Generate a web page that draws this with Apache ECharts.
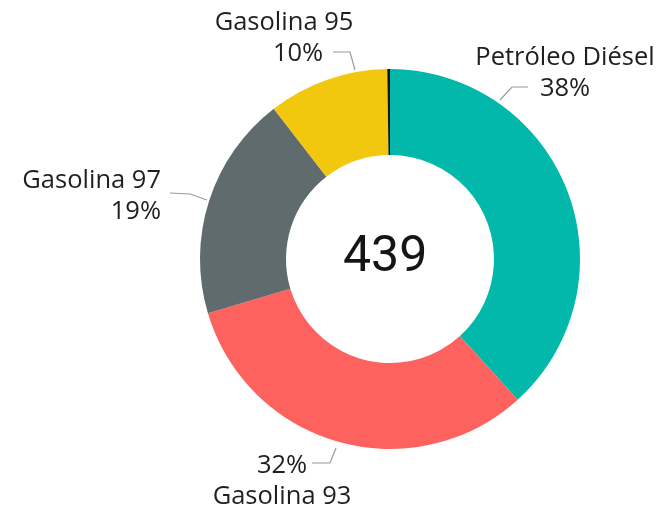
<!DOCTYPE html>
<html>
<head>
<meta charset="utf-8">
<script src="https://cdn.jsdelivr.net/npm/echarts@6/dist/echarts.min.js"></script>
<style>
html,body{margin:0;padding:0;background:#fff;}
#chart{width:663px;height:512px;}
</style>
</head>
<body>
<div id="chart"></div>
<script>
// Data (clockwise from 12 o'clock)
const categories = ['Petróleo Diésel', 'Gasolina 93', 'Gasolina 97', 'Gasolina 95', 'Otros'];
const values = [168, 141, 84, 45, 1];
const colors = ['#01B8AA', '#FD625E', '#5F6B6D', '#F2C80F', '#111111'];

const total = values.reduce((a, b) => a + b, 0);

// Label layout per slice (label anchor + leader line), index matches categories
const labelSpecs = [
  { x: 565, y: 73, align: 'center', line: [[500, 100], [512, 87], [528, 87]] },
  { x: 282, y: 481, align: 'center', line: [[336, 448], [330, 463], [312, 463]] },
  { x: 161, y: 196, align: 'right', line: [[207, 200], [190, 194], [170, 193]] },
  { x: 284, y: 38, align: 'center', line: [[355, 70], [350, 52], [333, 52]] },
  null
];

const chart = echarts.init(document.getElementById('chart'), null, { renderer: 'canvas' });

const labelFont = '"Open Sans", Roboto, sans-serif';
const numFont = 'Roboto, "Noto Sans", sans-serif';
const fs = 25.5;

chart.setOption({
  backgroundColor: '#ffffff',
  animation: false,
  graphic: [{
    type: 'text',
    left: 388 - 45,
    top: 262 - 29,
    style: {
      text: String(total),
      font: '50px ' + numFont,
      fill: '#151515',
      width: 90,
      align: 'center'
    }
  }],
  series: [{
    type: 'pie',
    center: [390, 259],
    radius: [104, 190],
    startAngle: 90,
    clockwise: true,
    avoidLabelOverlap: false,
    label: {
      show: true,
      position: 'outside',
      color: '#1f1f1f',
      fontFamily: labelFont,
      fontSize: fs,
      lineHeight: 31,
      formatter: function (p) {
        const pct = Math.round(p.percent) + '%';
        if (p.name === 'Gasolina 93') return '{t|' + pct + '}\n{t|' + p.name + '}';
        if (p.name === 'Gasolina 95') return '{t|' + p.name + '}\n{q|' + pct + '}';
        return '{t|' + p.name + '}\n{t|' + pct + '}';
      },
      rich: {
        t: { fontFamily: labelFont, fontSize: fs, lineHeight: 31, color: '#1f1f1f' },
        q: { fontFamily: labelFont, fontSize: fs, lineHeight: 31, color: '#1f1f1f', padding: [0, 0, 0, 28] }
      }
    },
    labelLine: {
      show: true,
      length: 10,
      length2: 15,
      lineStyle: { color: '#9a9a9a', width: 1.2 }
    },
    labelLayout: function (params) {
      const s = labelSpecs[params.dataIndex];
      if (!s) return {};
      return {
        x: s.x,
        y: s.y,
        align: s.align,
        verticalAlign: 'middle',
        labelLinePoints: s.line
      };
    },
    itemStyle: { borderWidth: 0 },
    emphasis: { disabled: true },
    data: categories.map((c, i) => ({
      name: c,
      value: values[i],
      itemStyle: { color: colors[i] },
      label: { show: i < 4 },
      labelLine: { show: i < 4 }
    }))
  }]
});
</script>
</body>
</html>
